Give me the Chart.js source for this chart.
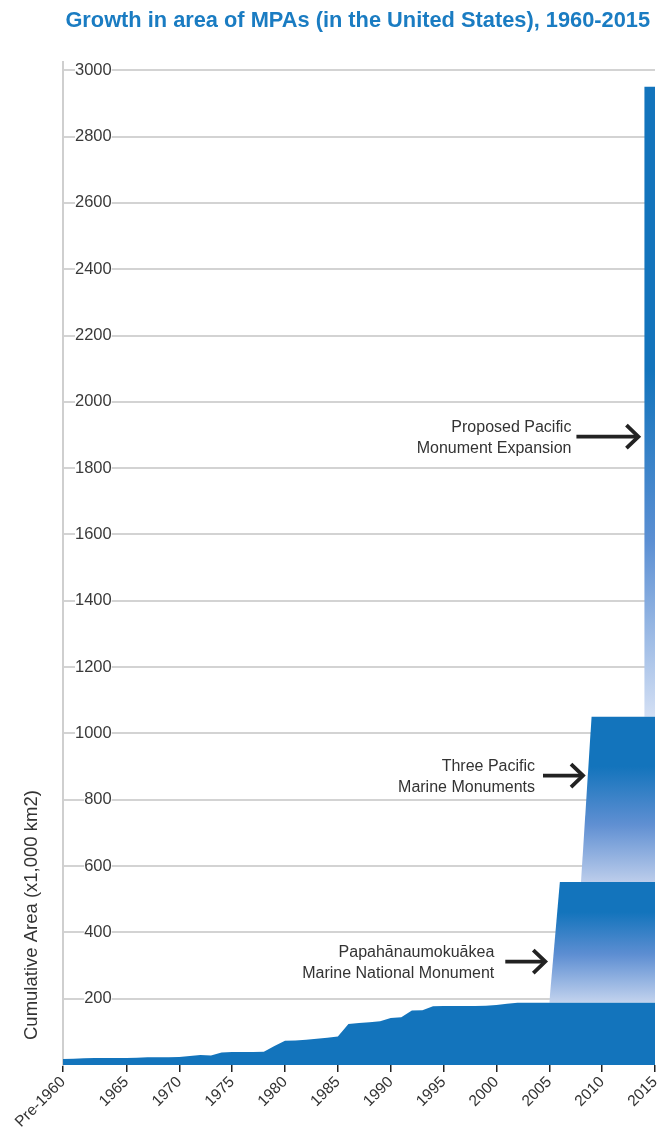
<!DOCTYPE html>
<html>
<head>
<meta charset="utf-8">
<script src="https://cdn.jsdelivr.net/npm/chart.js@4.4.0/dist/chart.umd.min.js"></script>
<style>
  html, body { margin: 0; padding: 0; background: #ffffff; }
  #wrap { position: relative; width: 658px; height: 1129px; }
</style>
</head>
<body>
<div id="wrap"><canvas id="c"></canvas></div>
<script>
// ---------------- DATA ----------------
const years = ['Pre-1960','1960','1961','1962','1963','1964','1965','1966','1967','1968','1969',
  '1970','1971','1972','1973','1974','1975','1976','1977','1978','1979',
  '1980','1981','1982','1983','1984','1985','1986','1987','1988','1989',
  '1990','1991','1992','1993','1994','1995','1996','1997','1998','1999',
  '2000','2001','2002','2003','2004','2005','2006','2007','2008','2009',
  '2010','2011','2012','2013','2014','2015'];

// Cumulative area of existing MPAs (x1,000 km2)
const baseArea = [18,19,20,21,21,21,21,22,23,23,23,
  24,27,30,29,38,39,39,39,40,57,
  73,74,76,79,82,86,124,127,129,132,
  142,144,164,165,177,178,178,178,178,179,
  181,185,188,188,188,188,188,188,188,188,
  188,188,188,188,188,188];

// Papahānaumokuākea Marine National Monument (added area)
const papaYears  = ['2005','2006','2007','2008','2009','2010','2011','2012','2013','2014','2015'];
const papaValues = [0,364,364,364,364,364,364,364,364,364,364];

// Three Pacific Marine Monuments (added area)
const threeYears  = ['2008','2009','2010','2011','2012','2013','2014','2015'];
const threeValues = [0,498,498,498,498,498,498,498];

// Proposed Pacific Monument Expansion (added area)
const proposedYears  = ['2013','2014','2015'];
const proposedValues = [0,1900,1900];

// Y tick labels
const yTicks = [0,200,400,600,800,1000,1200,1400,1600,1800,2000,2200,2400,2600,2800,3000];
// X tick labels shown
const xTickLabels = ['Pre-1960','1965','1970','1975','1980','1985','1990','1995','2000','2005','2010','2015'];

const titleText = 'Growth in area of MPAs (in the United States), 1960-2015';
const yTitle = 'Cumulative Area (x1,000 km2)';

const annotations = [
  { lines: ['Proposed Pacific', 'Monument Expansion'], at: '2014', value: 1895, dx: -6, len: 62, gap: 5 },
  { lines: ['Three Pacific', 'Marine Monuments'], at: '2008', value: 873, dx: 2, len: 40, gap: 8 },
  { lines: ['Papahānaumokuākea', 'Marine National Monument'], at: '2005', value: 312, dx: -4, len: 40, gap: 11 }
];

// ---------------- STYLE ----------------
const DARK = '#1374bc';
const FONT = '"Liberation Sans", Arial, Helvetica, sans-serif';

function toPoints(xs, vs) { return xs.map((x, i) => ({ x: x, y: vs[i] })); }
const last = a => a[a.length - 1];

const baseTop = last(baseArea);
const papaTop = baseTop + last(papaValues);
const threeTop = papaTop + last(threeValues);
const propTop = threeTop + last(proposedValues);

function gradientFill(bottomVal, topVal, stops) {
  return function (context) {
    const chart = context.chart;
    const { ctx, chartArea, scales } = chart;
    if (!chartArea || !scales.y) return DARK;
    const yT = scales.y.getPixelForValue(topVal);
    const yB = scales.y.getPixelForValue(bottomVal);
    const g = ctx.createLinearGradient(0, yT, 0, yB);
    stops.forEach(s => g.addColorStop(s[0], s[1]));
    return g;
  };
}

const titlePlugin = {
  id: 'titlePlugin',
  afterDraw(chart) {
    const { ctx } = chart;
    ctx.save();
    ctx.font = 'bold 21.8px ' + FONT;
    ctx.fillStyle = '#1a7cc2';
    ctx.textAlign = 'right';
    ctx.textBaseline = 'alphabetic';
    ctx.fillText(titleText, 650, 27);
    ctx.restore();
  }
};

const yTitlePlugin = {
  id: 'yTitlePlugin',
  afterDraw(chart) {
    const { ctx, chartArea } = chart;
    ctx.save();
    ctx.translate(32, chartArea.bottom - 25);
    ctx.rotate(-Math.PI / 2);
    ctx.font = '18.5px ' + FONT;
    ctx.fillStyle = '#333333';
    ctx.textAlign = 'left';
    ctx.textBaseline = 'middle';
    ctx.fillText(yTitle, 0, 0);
    ctx.restore();
  }
};

const annotationPlugin = {
  id: 'annotationPlugin',
  afterDatasetsDraw(chart) {
    const { ctx, scales } = chart;
    annotations.forEach(a => {
      const tipX = scales.x.getPixelForValue(years.indexOf(a.at)) + a.dx;
      const y = scales.y.getPixelForValue(a.value);
      const startX = tipX - a.len;
      ctx.save();
      ctx.strokeStyle = '#222222';
      ctx.lineWidth = 3.8;
      ctx.lineCap = 'butt';
      ctx.lineJoin = 'miter';
      ctx.beginPath();
      ctx.moveTo(startX, y);
      ctx.lineTo(tipX - 1, y);
      ctx.stroke();
      ctx.beginPath();
      ctx.moveTo(tipX - 12, y - 11.5);
      ctx.lineTo(tipX, y);
      ctx.lineTo(tipX - 12, y + 11.5);
      ctx.stroke();
      ctx.font = '16px ' + FONT;
      ctx.fillStyle = '#333333';
      ctx.textAlign = 'right';
      ctx.textBaseline = 'alphabetic';
      ctx.fillText(a.lines[0], startX - a.gap, y - 5);
      ctx.fillText(a.lines[1], startX - a.gap, y + 16);
      ctx.restore();
    });
  }
};

const ctx = document.getElementById('c').getContext('2d');
new Chart(ctx, {
  type: 'line',
  data: {
    labels: years,
    datasets: [
      {
        label: 'Existing MPAs',
        data: baseArea,
        fill: 'origin',
        backgroundColor: DARK,
        borderWidth: 0,
        pointRadius: 0,
        tension: 0
      },
      {
        label: 'Papahānaumokuākea Marine National Monument',
        data: toPoints(papaYears, papaValues),
        fill: '-1',
        backgroundColor: gradientFill(baseTop, papaTop, [[0, DARK], [0.25, DARK], [0.6, '#5d8ed2'], [1, '#c3d3ee']]),
        borderWidth: 0,
        pointRadius: 0,
        tension: 0
      },
      {
        label: 'Three Pacific Marine Monuments',
        data: toPoints(threeYears, threeValues),
        fill: '-1',
        backgroundColor: gradientFill(papaTop, threeTop, [[0, DARK], [0.3, DARK], [0.65, '#5f8fd2'], [1, '#bccdeb']]),
        borderWidth: 0,
        pointRadius: 0,
        tension: 0
      },
      {
        label: 'Proposed Pacific Monument Expansion',
        data: toPoints(proposedYears, proposedValues),
        fill: '-1',
        stepped: 'before',
        backgroundColor: gradientFill(threeTop, propTop, [[0, DARK], [0.45, DARK], [0.72, '#5b8fd3'], [1, '#d3dff4']]),
        borderWidth: 0,
        pointRadius: 0,
        tension: 0
      }
    ]
  },
  options: {
    responsive: true,
    maintainAspectRatio: false,
    animation: false,
    devicePixelRatio: 1,
    layout: { padding: { left: 63, right: 3, top: 62, bottom: 0 } },
    plugins: {
      legend: { display: false },
      tooltip: { enabled: false },
      title: { display: false }
    },
    scales: {
      x: {
        type: 'category',
        offset: false,
        border: { display: false },
        grid: {
          drawOnChartArea: false,
          drawTicks: true,
          tickLength: 7,
          lineWidth: 1.5,
          color: c => (xTickLabels.includes(years[c.index]) ? '#222222' : 'rgba(0,0,0,0)')
        },
        ticks: {
          autoSkip: false,
          maxRotation: 45,
          minRotation: 45,
          padding: 1,
          color: '#333333',
          font: { family: FONT, size: 15.5 },
          callback: function (v, i) { return xTickLabels.includes(years[i]) ? years[i] : ''; }
        },
        afterFit: s => { s.height = 64; s.paddingLeft = 0; s.paddingRight = 0; }
      },
      y: {
        type: 'linear',
        stacked: true,
        min: 0,
        max: 3025,
        afterBuildTicks: s => { s.ticks = yTicks.map(v => ({ value: v })); },
        afterFit: s => { s.width = 0; s.paddingTop = 0; s.paddingBottom = 0; },
        border: { display: true, color: '#cfcfcf', width: 2 },
        grid: {
          drawTicks: false,
          lineWidth: 2,
          color: c => (c.tick && c.tick.value === 0 ? 'rgba(0,0,0,0)' : '#d3d3d3')
        },
        ticks: {
          mirror: true,
          crossAlign: 'far',
          padding: 12,
          color: '#3a3a3a',
          font: { family: FONT, size: 16.5 },
          showLabelBackdrop: true,
          backdropColor: '#ffffff',
          backdropPadding: c => ({ left: (c.tick && c.tick.value >= 1000) ? 1 : 11, right: 2, top: 0, bottom: 0 }),
          callback: v => (v === 0 ? '' : String(v))
        }
      }
    }
  },
  plugins: [titlePlugin, yTitlePlugin, annotationPlugin]
});
</script>
</body>
</html>
